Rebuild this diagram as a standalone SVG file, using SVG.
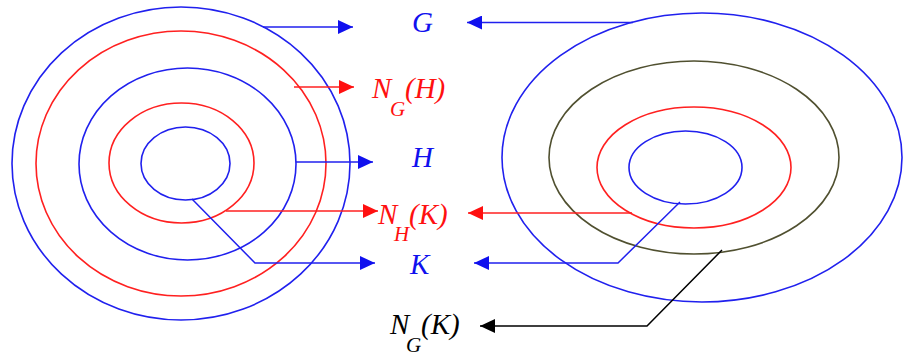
<svg xmlns="http://www.w3.org/2000/svg" width="903" height="356" viewBox="0 0 903 356">
<style>
.e{fill:none;stroke-width:1.6}
.b{stroke:#2020ee}
.r{stroke:#ff2020}
.o{stroke:#505030}
.c{fill:none;stroke-width:1.5}
.lbl{font-family:"Liberation Serif","Times New Roman",serif;font-style:italic;font-size:29px}
.sub{font-size:21px}
</style>
<defs>
<marker id="ab" markerUnits="userSpaceOnUse" markerWidth="16" markerHeight="14" refX="15" refY="7" orient="auto"><path d="M0,0 L15,7 L0,14 Z" fill="#1010ee"/></marker>
<marker id="ar" markerUnits="userSpaceOnUse" markerWidth="16" markerHeight="14" refX="15" refY="7" orient="auto"><path d="M0,0 L15,7 L0,14 Z" fill="#ff1010"/></marker>
<marker id="ak" markerUnits="userSpaceOnUse" markerWidth="16" markerHeight="14" refX="15" refY="7" orient="auto"><path d="M0,0 L15,7 L0,14 Z" fill="#000"/></marker>
</defs>
<rect width="903" height="356" fill="#fff"/>
<g id="left-sets">
<ellipse id="left-G" class="e b" cx="181" cy="163.5" rx="169" ry="156.5"/>
<ellipse id="left-NGH" class="e r" cx="181" cy="163.5" rx="145" ry="132.5"/>
<ellipse id="left-H" class="e b" cx="187.5" cy="164" rx="108.5" ry="96"/>
<ellipse id="left-NHK" class="e r" cx="181.5" cy="163" rx="72.5" ry="60"/>
<ellipse id="left-K" class="e b" cx="185.5" cy="163.5" rx="44.5" ry="36.5"/>
</g>
<g id="right-sets">
<ellipse id="right-G" class="e b" cx="702" cy="157.5" rx="200" ry="144.5"/>
<ellipse id="right-NGK" class="e o" cx="694" cy="157.5" rx="145" ry="96.5"/>
<ellipse id="right-NHK" class="e r" cx="694" cy="167.5" rx="97" ry="60.5"/>
<ellipse id="right-K" class="e b" cx="685.5" cy="167.5" rx="56.5" ry="36.5"/>
</g>
<g id="connectors">
<path class="c b" d="M263,27 H353" marker-end="url(#ab)"/>
<path class="c r" d="M294,87 H354" marker-end="url(#ar)"/>
<path class="c b" d="M296,162 H373" marker-end="url(#ab)"/>
<path class="c r" d="M226,211 H378" marker-end="url(#ar)"/>
<path class="c b" d="M192,199 L255,263 H375" marker-end="url(#ab)"/>
<path class="c b" d="M633,22.5 H467" marker-end="url(#ab)"/>
<path class="c r" d="M632,213 H468" marker-end="url(#ar)"/>
<path class="c b" d="M680,202 L618,263 H474" marker-end="url(#ab)"/>
<path class="c" stroke="#000" d="M722,250 L647,326 H480" marker-end="url(#ak)"/>
</g>
<g id="label-G"><text class="lbl" x="412" y="32" fill="#1010ee">G</text></g>
<g id="label-NGH"><text class="lbl" fill="#ff1010" x="372" y="98">N<tspan class="sub" x="390" y="116">G</tspan><tspan x="405" y="98">(H)</tspan></text></g>
<g id="label-H"><text class="lbl" x="412" y="167" fill="#1010ee">H</text></g>
<g id="label-NHK"><text class="lbl" fill="#ff1010" x="378" y="224">N<tspan class="sub" x="394" y="241">H</tspan><tspan x="409" y="224">(K)</tspan></text></g>
<g id="label-K"><text class="lbl" x="410" y="274" fill="#1010ee">K</text></g>
<g id="label-NGK"><text class="lbl" fill="#000" x="390" y="334">N<tspan class="sub" x="406" y="352">G</tspan><tspan x="421" y="334">(K)</tspan></text></g>
</svg>
